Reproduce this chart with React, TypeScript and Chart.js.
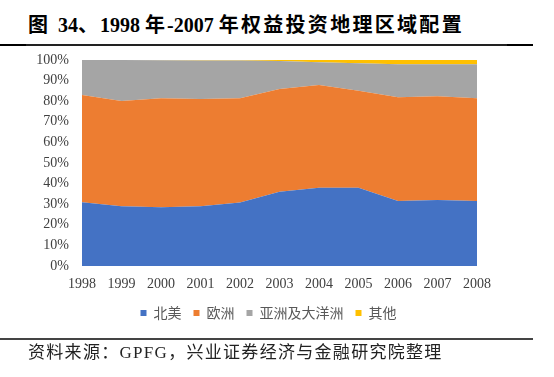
import React, { useEffect, useRef } from "react";
import { Chart, registerables } from "chart.js";

Chart.register(...registerables);

const years = ["1998", "1999", "2000", "2001", "2002", "2003", "2004", "2005", "2006", "2007", "2008"];
const seriesNames = ["北美", "欧洲", "亚洲及大洋洲", "其他"];
const northAmerica = [31, 29, 28.5, 29, 30.8, 36, 38, 38, 31.5, 32, 31.5];
const europe = [52, 51.1, 52.9, 52.1, 50.6, 49.9, 49.9, 47.1, 50.4, 50.4, 49.9];
const asiaPacific = [17, 19.9, 18.5, 18.7, 18.3, 13.6, 11.0, 13.3, 16.0, 15.5, 16.5];
const others = [0, 0, 0.1, 0.2, 0.3, 0.5, 1.1, 1.6, 2.1, 2.1, 2.1];
const colors = ["#4472C4", "#ED7D31", "#A5A5A5", "#FFC000"];

const serifFont = "'Liberation Serif', 'Noto Sans CJK SC', serif";

export default function App() {
  const canvasRef = useRef<HTMLCanvasElement | null>(null);

  useEffect(() => {
    if (!canvasRef.current) return;
    const values = [northAmerica, europe, asiaPacific, others];
    const chart = new Chart(canvasRef.current, {
      type: "line",
      data: {
        labels: years,
        datasets: values.map((v, i) => ({
          label: seriesNames[i],
          data: v,
          backgroundColor: colors[i],
          borderColor: colors[i],
          borderWidth: 0,
          pointRadius: 0,
          fill: i === 0 ? "origin" : "-1",
          tension: 0,
          yAxisID: "y",
        })),
      },
      options: {
        responsive: false,
        animation: false,
        layout: { padding: { left: 30, right: 47, top: 60, bottom: 47 } },
        plugins: {
          legend: {
            position: "bottom",
            labels: {
              boxWidth: 6,
              boxHeight: 6,
              padding: 12,
              color: "#595959",
              font: { family: "'Noto Sans CJK SC'", size: 14 },
            },
          },
          tooltip: { enabled: false },
        },
        scales: {
          x: {
            offset: false,
            grid: { display: false, drawTicks: false },
            border: { display: false },
            ticks: {
              color: "#404040",
              padding: 10,
              maxRotation: 0,
              font: { family: serifFont, size: 14 },
            },
            afterFit: (s: any) => {
              s.height = 28;
            },
          },
          y: {
            stacked: true,
            min: 0,
            max: 100,
            grid: { display: false, drawTicks: false },
            border: { display: false },
            ticks: {
              stepSize: 10,
              color: "#404040",
              padding: 13,
              font: { family: serifFont, size: 14 },
              callback: (v: any) => v + "%",
            },
            afterFit: (s: any) => {
              s.width = 52;
            },
          },
          spacer: {
            type: "linear",
            position: "right",
            display: true,
            min: 0,
            max: 1,
            grid: { display: false, drawTicks: false },
            border: { display: false },
            ticks: { display: false },
            afterFit: (s: any) => {
              s.width = 30;
            },
          },
        },
      },
    });
    return () => chart.destroy();
  }, []);

  return (
    <div
      style={{
        position: "fixed",
        left: 0,
        top: 0,
        width: 554,
        height: 377,
        background: "#fff",
        overflow: "hidden",
      }}
    >
      <div
        style={{
          position: "absolute",
          left: 28,
          top: 15,
          fontFamily: serifFont,
          fontWeight: "bold",
          fontSize: 20,
          lineHeight: "20px",
          color: "#000",
          whiteSpace: "nowrap",
        }}
      >
        <span style={{ marginRight: 10 }}>图</span>
        {"34"}
        <span style={{ letterSpacing: "2px" }}>、</span>
        {"1998 "}
        <span style={{ letterSpacing: "2px" }}>年</span>
        {"-2007 "}
        <span style={{ letterSpacing: "2.3px" }}>年权益投资地理区域配置</span>
      </div>
      <div style={{ position: "absolute", left: 0, top: 44, width: 533, height: 1.5, background: "#222" }} />
      <div style={{ position: "absolute", left: 0, top: 43.5, width: 26, height: 2.5, background: "#000" }} />
      <div style={{ position: "absolute", left: 507, top: 43.5, width: 26, height: 2.5, background: "#000" }} />
      <canvas
        ref={canvasRef}
        width={554}
        height={377}
        style={{ position: "absolute", left: 0, top: 0, width: 554, height: 377 }}
      />
      <div style={{ position: "absolute", left: 0, top: 338, width: 533, height: 1.5, background: "#444" }} />
      <div
        style={{
          position: "absolute",
          left: 28,
          top: 344,
          fontFamily: serifFont,
          fontSize: 17,
          lineHeight: "17px",
          letterSpacing: "1.3px",
          color: "#222",
          whiteSpace: "nowrap",
        }}
      >
        资料来源：GPFG，兴业证券经济与金融研究院整理
      </div>
    </div>
  );
}
